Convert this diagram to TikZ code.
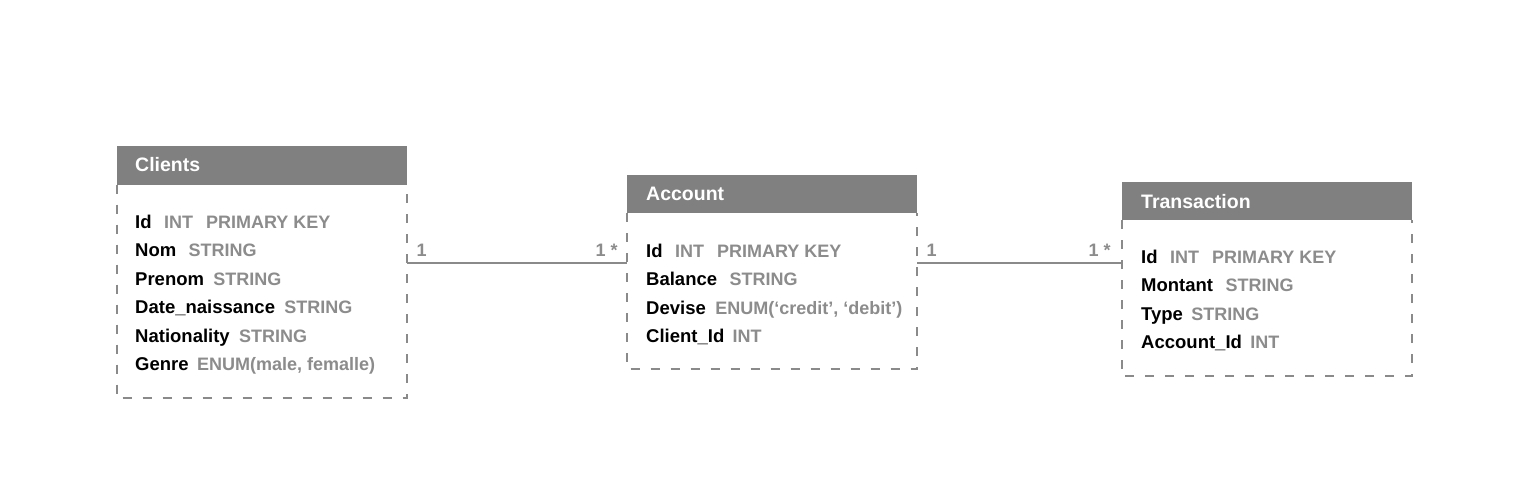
\documentclass[tikz,border=0pt]{standalone}
\usepackage{fontspec}
\setmainfont{Liberation Sans}
\definecolor{hdrgray}{HTML}{808080}
\definecolor{linegray}{HTML}{8A8A8A}
\definecolor{typegray}{HTML}{8C8C8C}
\begin{document}
\begin{tikzpicture}[x=1pt,y=-1pt,
  hdr/.style={fill=hdrgray, draw=none, minimum width=290pt, minimum height=38.5pt, inner sep=0pt, anchor=north west},
  bodybox/.style={draw=none, minimum width=290pt, inner sep=0pt, anchor=north west},
  frame/.style={draw=linegray, line width=2pt, dash pattern=on 9pt off 11pt},
  title/.style={text=white, font=\fontsize{19.5}{21}\selectfont\bfseries, inner sep=0pt, anchor=base west},
  fname/.style={text=black, font=\fontsize{18.5}{20}\selectfont\bfseries, inner sep=0pt, anchor=base west},
  ftype/.style={text=typegray, font=\fontsize{18}{20}\selectfont\bfseries, inner sep=0pt, anchor=base west},
  card/.style={text=typegray, font=\fontsize{18}{20}\selectfont\bfseries, inner sep=0pt, anchor=base west},
  rel/.style={draw=linegray, line width=2pt}
]
\fill[white] (0,0) rectangle (1531,487);
\useasboundingbox (0,0) rectangle (1531,487);

% ---------- Clients ----------
\node[hdr] (clH) at (116.5,146) {};
\node[title] (clT) at (135,171.5) {Clients};
\node[bodybox, minimum height=213.5pt] (clB) at (116.5,184.5) {};
\draw[frame] (clB.north west) -- (clB.south west) -- (clB.south east) -- (clB.north east);
\foreach \n/\t/\g/\yb [count=\i] in {
  Id/{INT\hspace{13pt}PRIMARY KEY}/12/228,
  Nom/STRING/12/256.5,
  Prenom/STRING/9/285,
  Date\_naissance/STRING/9/313.5,
  Nationality/STRING/9/342,
  Genre/{ENUM(male, femalle)}/8/370.5}{
  \node[fname] (clN\i) at (135,\yb) {\n};
  \node[ftype] (clY\i) at ([xshift=\g pt]clN\i.base east) {\t};
}

% ---------- Account ----------
\node[hdr] (acH) at (627,174.5) {};
\node[title] (acT) at (646,200) {Account};
\node[bodybox, minimum height=156pt] (acB) at (627,213) {};
\draw[frame] (acB.north west) -- (acB.south west) -- (acB.south east) -- (acB.north east);
\foreach \n/\t/\g/\yb [count=\i] in {
  Id/{INT\hspace{13pt}PRIMARY KEY}/12/257,
  Balance/STRING/12/285.5,
  Devise/{ENUM(‘credit’, ‘debit’)}/9/314,
  Client\_Id/INT/8/342.5}{
  \node[fname] (acN\i) at (646,\yb) {\n};
  \node[ftype] (acY\i) at ([xshift=\g pt]acN\i.base east) {\t};
}

% ---------- Transaction ----------
\node[hdr] (trH) at (1121.5,181.5) {};
\node[title] (trT) at (1141,208) {Transaction};
\node[bodybox, minimum height=156pt] (trB) at (1121.5,220) {};
\draw[frame] (trB.north west) -- (trB.south west) -- (trB.south east) -- (trB.north east);
\foreach \n/\t/\g/\yb [count=\i] in {
  Id/{INT\hspace{13pt}PRIMARY KEY}/12/263,
  Montant/STRING/12/291.5,
  Type/STRING/8/320,
  Account\_Id/INT/8/348.5}{
  \node[fname] (trN\i) at (1141,\yb) {\n};
  \node[ftype] (trY\i) at ([xshift=\g pt]trN\i.base east) {\t};
}

% ---------- Relations ----------
\coordinate (r1) at (500,263.3);
\coordinate (r2) at (1000,263.3);
\draw[rel] (clB.east |- r1) -- (acB.west |- r1);
\draw[rel] (acB.east |- r2) -- (trB.west |- r2);
\node[card] (r1a) at (416.5,256) {1};
\node[card] (r1b) at (595.5,256) {1 *};
\node[card] (r2a) at (926.5,256) {1};
\node[card] (r2b) at (1088.5,256) {1 *};
\end{tikzpicture}
\end{document}
